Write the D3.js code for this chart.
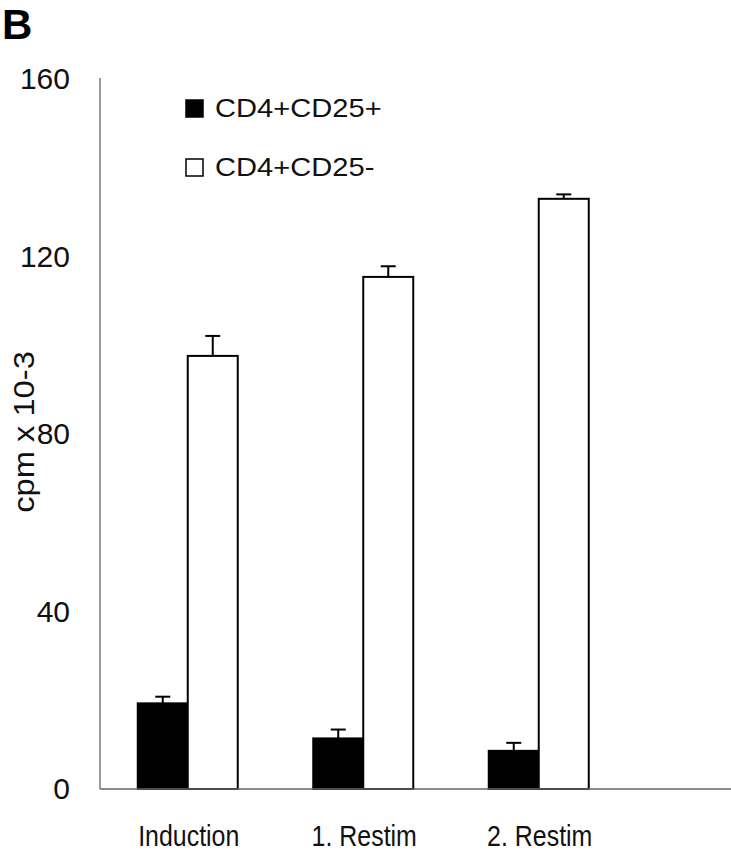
<!DOCTYPE html>
<html>
<head>
<meta charset="utf-8">
<script src="https://cdn.jsdelivr.net/npm/d3@7/dist/d3.min.js"></script>
<style>
  html, body { margin: 0; padding: 0; background: #fff; }
  svg { display: block; font-family: "Liberation Sans", Arial, sans-serif; }
</style>
</head>
<body>
<svg id="chart" width="731" height="853"></svg>
<script>
const categories = ["Induction", "1. Restim", "2. Restim"];
const seriesNames = ["CD4+CD25+", "CD4+CD25-"];
const cd25pos = [19.3, 11.4, 8.6];
const cd25posErr = [1.5, 2.0, 1.8];
const cd25neg = [97.6, 115.4, 133.0];
const cd25negErr = [4.5, 2.4, 1.0];
const yTicks = [0, 40, 80, 120, 160];

const svg = d3.select("#chart");
const mLeft = 100, mRight = 626.5, mTop = 79, mBottom = 789;

const x = d3.scaleBand().domain(categories).range([mLeft, mRight]).paddingInner(0).paddingOuter(0);
const x1 = d3.scaleBand().domain(seriesNames).range([0, 100]);
const y = d3.scaleLinear().domain([0, 160]).range([mBottom, mTop]);

const data = categories.map((c, i) => ({
  cat: c,
  vals: [
    { s: seriesNames[0], v: cd25pos[i], e: cd25posErr[i], fill: "#000" },
    { s: seriesNames[1], v: cd25neg[i], e: cd25negErr[i], fill: "#fff" }
  ]
}));

// Panel letter
svg.append("text").attr("x", 2).attr("y", 39).attr("font-size", 42).attr("font-weight", "bold").text("B");

// Y axis line
svg.append("line").attr("x1", mLeft).attr("x2", mLeft).attr("y1", mTop - 1).attr("y2", mBottom)
  .attr("stroke", "#555").attr("stroke-width", 1.2);

// Y tick labels (via axis, no tick lines)
const yAxis = d3.axisLeft(y).tickValues(yTicks).tickSize(0).tickPadding(30).tickFormat(d3.format("d"));
const gy = svg.append("g").attr("transform", `translate(${mLeft},0)`).call(yAxis);
gy.select(".domain").remove();
gy.selectAll("text").attr("font-size", 30).attr("fill", "#111")
  .attr("font-family", "Liberation Sans, Arial, sans-serif");

// Y axis title
svg.append("text")
  .attr("transform", `translate(34,432) rotate(-90) scale(1.09,1)`)
  .attr("text-anchor", "middle")
  .attr("font-size", 30)
  .attr("fill", "#111")
  .text("cpm x 10-3");

// Bars
const groups = svg.selectAll("g.grp").data(data).join("g").attr("class", "grp")
  .attr("transform", d => `translate(${x(d.cat) + x.bandwidth() / 2 - 50},0)`);

groups.selectAll("rect").data(d => d.vals).join("rect")
  .attr("x", d => x1(d.s))
  .attr("y", d => y(d.v))
  .attr("width", x1.bandwidth())
  .attr("height", d => y(0) - y(d.v))
  .attr("fill", d => d.fill)
  .attr("stroke", "#000")
  .attr("stroke-width", 2);

// Error bars (upper only)
groups.selectAll("line.err").data(d => d.vals).join("line").attr("class", "err")
  .attr("x1", d => x1(d.s) + x1.bandwidth() / 2)
  .attr("x2", d => x1(d.s) + x1.bandwidth() / 2)
  .attr("y1", d => y(d.v))
  .attr("y2", d => y(d.v + d.e))
  .attr("stroke", "#000").attr("stroke-width", 2);
groups.selectAll("line.cap").data(d => d.vals).join("line").attr("class", "cap")
  .attr("x1", d => x1(d.s) + x1.bandwidth() / 2 - 7.5)
  .attr("x2", d => x1(d.s) + x1.bandwidth() / 2 + 7.5)
  .attr("y1", d => y(d.v + d.e))
  .attr("y2", d => y(d.v + d.e))
  .attr("stroke", "#000").attr("stroke-width", 2);

// Baseline
svg.append("line").attr("x1", mLeft).attr("x2", 731).attr("y1", mBottom).attr("y2", mBottom)
  .attr("stroke", "#666").attr("stroke-width", 1.5);

// X labels
svg.selectAll("text.xl").data(categories).join("text").attr("class", "xl")
  .attr("transform", d => `translate(${x(d) + x.bandwidth() / 2 + 1},846) scale(0.86,1)`)
  .attr("text-anchor", "middle")
  .attr("font-size", 29)
  .attr("fill", "#111")
  .text(d => d);

// Legend
const legend = svg.append("g");
const legY = [100, 159];
seriesNames.forEach((s, i) => {
  legend.append("rect").attr("x", 186).attr("y", legY[i]).attr("width", 17).attr("height", 17)
    .attr("fill", i === 0 ? "#000" : "#fff").attr("stroke", "#000").attr("stroke-width", 1.5);
  legend.append("text")
    .attr("transform", `translate(215,${legY[i] + 17}) scale(1.12,1)`)
    .attr("font-size", 26).attr("fill", "#111")
    .text(s);
});
</script>
</body>
</html>
